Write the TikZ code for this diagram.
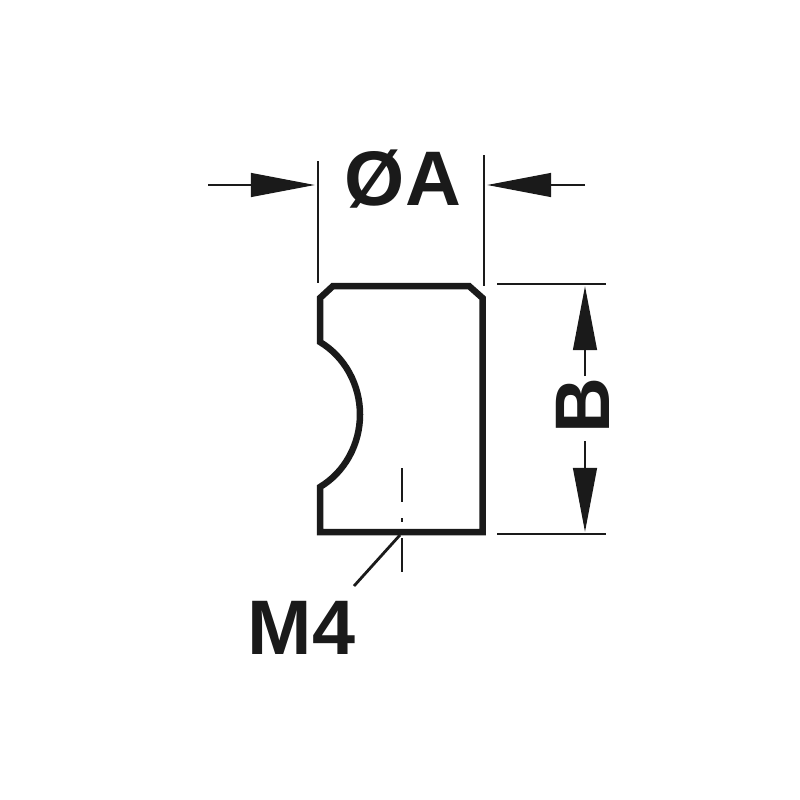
\documentclass[tikz,border=0pt]{standalone}
\usepackage{fontspec}
\setmainfont{Liberation Sans}
\usetikzlibrary{arrows.meta}
\definecolor{inkblack}{HTML}{1A1A1A}
\tikzset{
  outline/.style={draw=inkblack,line width=0.065cm,line join=miter},
  thinline/.style={draw=inkblack,line width=0.028cm},
  dimarrow/.style={draw=inkblack,line width=0.028cm,-{Triangle[length=0.64cm,width=0.235cm,color=inkblack]}},
  dimlabel/.style={text=inkblack,font=\bfseries\fontsize{22}{22}\selectfont,inner sep=0pt}
}
\begin{document}
\begin{tikzpicture}[x=0.01cm,y=-0.01cm]
\useasboundingbox (0,0) rectangle (800,800);

% Marking end points of the extension lines
\coordinate (leftTop) at (318,161);
\coordinate (leftBot) at (318,283);
\coordinate (rightTop) at (484,155);
\coordinate (rightBot) at (484,286);
\coordinate (upperL) at (497,284);
\coordinate (upperR) at (606,284);
\coordinate (lowerL) at (497,534);
\coordinate (lowerR) at (606,534);

% Marking end points of the arrows
\coordinate (leftFrom) at (208,185);
\coordinate (leftTip) at (315,185);
\coordinate (rightFrom) at (585,185);
\coordinate (rightTip) at (487,185);
\coordinate (upFrom) at (585,376);
\coordinate (upTip) at (585,286);
\coordinate (downFrom) at (585,441);
\coordinate (downTip) at (585,532);

% Marking end points of the axis and the leader
\coordinate (axisA) at (402,468);
\coordinate (axisB) at (402,502);
\coordinate (axisC) at (402,518);
\coordinate (axisD) at (402,522);
\coordinate (axisE) at (402,538);
\coordinate (axisF) at (402,572);
\coordinate (leaderA) at (400,535);
\coordinate (leaderB) at (354,586);

% Drawing the body
\draw [outline] (333,286) -- (469,286) -- (482.5,298) -- (482.5,532) -- (320,532)
  -- (320,487) .. controls (345,472) and (360,444) .. (360,414.5)
  .. controls (360,385) and (345,357) .. (320,342) -- (320,298) -- cycle;

% Drawing extension lines
\draw [thinline] (leftTop) -- (leftBot);
\draw [thinline] (rightTop) -- (rightBot);
\draw [thinline] (upperL) -- (upperR);
\draw [thinline] (lowerL) -- (lowerR);

% Drawing arrows
\draw [dimarrow] (leftFrom) -- (leftTip);
\draw [dimarrow] (rightFrom) -- (rightTip);
\draw [dimarrow] (upFrom) -- (upTip);
\draw [dimarrow] (downFrom) -- (downTip);

% Drawing axis and leader
\draw [thinline] (axisA) -- (axisB);
\draw [thinline] (axisC) -- (axisD);
\draw [thinline] (axisE) -- (axisF);
\draw [thinline] (leaderA) -- (leaderB);

% Marking labels
\node [dimlabel] (dia) at (403,179) {ØA};
\node [dimlabel,rotate=90] (len) at (583,406) {B};
\node [dimlabel] (thread) at (301.5,628) {M4};
\end{tikzpicture}
\end{document}
